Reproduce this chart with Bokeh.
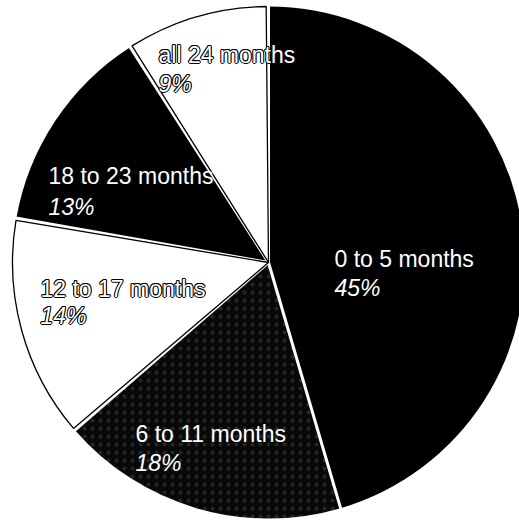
import math
from bokeh.plotting import figure
from bokeh.models import Range1d, ColumnDataSource
from bokeh.core.properties import value
from bokeh.embed import file_html
from bokeh.resources import INLINE

# ---- data ----
categories = ["0 to 5 months", "6 to 11 months", "12 to 17 months", "18 to 23 months", "all 24 months"]
shares = [45, 18, 14, 13, 9]
pct_labels = ["45%", "18%", "14%", "13%", "9%"]

# ---- style / layout ----
fills = ["#000000", "#080808", "#ffffff", "#000000", "#ffffff"]
outlined = [False, False, True, False, True]
# label anchor positions (px, y measured upward from the bottom)
label_x = [334, 135, 40, 48, 158]
name_y = [270, 95, 240, 353, 474]
pct_y = [241, 66, 213, 322, 445]

W, H = 519, 528
cx, cy, R = 268, 266, 256

total = float(sum(shares))
starts, ends = [], []
acc = 0.0
for s in shares:
    a0 = math.pi / 2 - 2 * math.pi * acc / total
    acc += s
    a1 = math.pi / 2 - 2 * math.pi * acc / total
    starts.append(a0)
    ends.append(a1)

p = figure(width=W, height=H, output_backend="svg", toolbar_location=None,
           x_range=Range1d(0, W), y_range=Range1d(0, H), min_border=0)
p.axis.visible = False
p.grid.visible = False
p.outline_line_color = None
p.background_fill_color = "white"

src = ColumnDataSource(dict(cat=categories, share=shares, start=starts, end=ends,
                            fill=fills, x=[cx] * 5, y=[cy] * 5))
p.wedge(x="x", y="y", radius=R, start_angle="start", end_angle="end", direction="clock",
        fill_color="fill", line_color=None, source=src)

# sparse dithered texture for the 6-11 slice
p.wedge(x=[cx], y=[cy], radius=R, start_angle=[starts[1]], end_angle=[ends[1]], direction="clock",
        fill_color=None, line_color=None, hatch_pattern="dot", hatch_color="#909090",
        hatch_scale=8, hatch_weight=1, hatch_alpha=0.22)

# white separators
p.ray(x=[cx] * 5, y=[cy] * 5, length=R + 2, angle=starts, line_color="white", line_width=3)

# black outline of the white slices
d = 0.009
for i in range(5):
    if outlined[i]:
        p.wedge(x=[cx], y=[cy], radius=R, start_angle=[starts[i] - d], end_angle=[ends[i] + d],
                direction="clock", fill_color=None, line_color="black", line_width=1.3)

# labels
offsets = [(-1, 0), (1, 0), (0, -1), (0, 1), (-0.7, -0.7), (0.7, 0.7), (-0.7, 0.7), (0.7, -0.7)]
for i in range(5):
    base = dict(text_font=value("Liberation Sans"), text_font_size="23px",
                text_baseline="alphabetic", text_align="left")
    for txt, yy, style in ((categories[i], name_y[i], "normal"), (pct_labels[i], pct_y[i], "italic")):
        if outlined[i]:
            for ox, oy in offsets:
                p.text(x=[label_x[i]], y=[yy], text=[txt], text_color="black",
                       x_offset=ox, y_offset=oy, text_font_style=style, **base)
        p.text(x=[label_x[i]], y=[yy], text=[txt], text_color="white",
               text_font_style=style, **base)

open("out.html", "w").write(file_html(p, INLINE))
